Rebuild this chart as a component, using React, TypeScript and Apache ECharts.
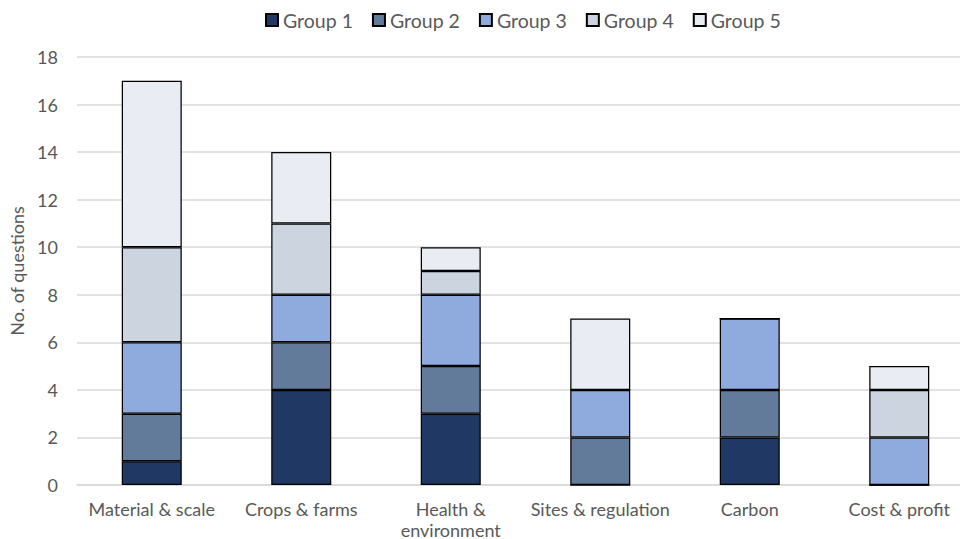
import React, { useEffect, useRef } from "react";
import * as echarts from "echarts";

const categories = [
  "Material & scale",
  "Crops & farms",
  "Health &\nenvironment",
  "Sites & regulation",
  "Carbon",
  "Cost & profit",
];
const seriesNames = ["Group 1", "Group 2", "Group 3", "Group 4", "Group 5"];
const group1 = [1, 4, 3, 0, 2, 0];
const group2 = [2, 2, 2, 2, 2, 0];
const group3 = [3, 2, 3, 2, 3, 2];
const group4 = [4, 3, 1, 0, 0, 2];
const group5 = [7, 3, 1, 3, 0, 1];
const yTicks = { min: 0, max: 18, interval: 2 };
const colors = ["#203864", "#637B9B", "#8FAADC", "#CBD4DF", "#E9EDF3"];

export default function App() {
  const ref = useRef<HTMLDivElement>(null);
  useEffect(() => {
    if (!ref.current) return;
    const chart = echarts.init(ref.current, undefined, { renderer: "svg" });
    const values = [group1, group2, group3, group4, group5];
    const font = "Lato, 'Noto Sans', sans-serif";
    chart.setOption({
      animation: false,
      textStyle: { fontFamily: font },
      legend: {
        top: 5,
        left: 260,
        itemWidth: 12,
        itemHeight: 12,
        itemGap: 19,
        icon: "rect",
        textStyle: { color: "#595959", fontSize: 19.5, fontFamily: font },
        data: seriesNames,
      },
      grid: {
        left: 77,
        top: 57,
        width: 897,
        height: 428,
        containLabel: false,
        outerBoundsMode: "none",
      },
      xAxis: {
        type: "category",
        data: categories,
        axisTick: { show: false },
        axisLine: { lineStyle: { color: "#D9D9D9", width: 1.5 } },
        axisLabel: {
          color: "#595959",
          fontSize: 18,
          fontFamily: font,
          margin: 13,
          lineHeight: 21,
          interval: 0,
        },
      },
      yAxis: {
        type: "value",
        min: yTicks.min,
        max: yTicks.max,
        interval: yTicks.interval,
        name: "No. of questions",
        nameLocation: "middle",
        nameGap: 50,
        nameTextStyle: { color: "#595959", fontSize: 18, fontFamily: font },
        axisLabel: { color: "#595959", fontSize: 18, fontFamily: font, margin: 19 },
        splitLine: { lineStyle: { color: "#D9D9D9", width: 1.5 } },
        axisLine: { show: false },
        axisTick: { show: false },
      },
      series: seriesNames.map((name, i) => ({
        name,
        type: "bar",
        stack: "total",
        barWidth: 60,
        data: values[i],
        itemStyle: { color: colors[i], borderColor: "#000000", borderWidth: 1.25 },
      })),
    });
    return () => chart.dispose();
  }, []);
  return <div ref={ref} style={{ width: 960, height: 539, position: "absolute", left: 0, top: 0 }} />;
}
